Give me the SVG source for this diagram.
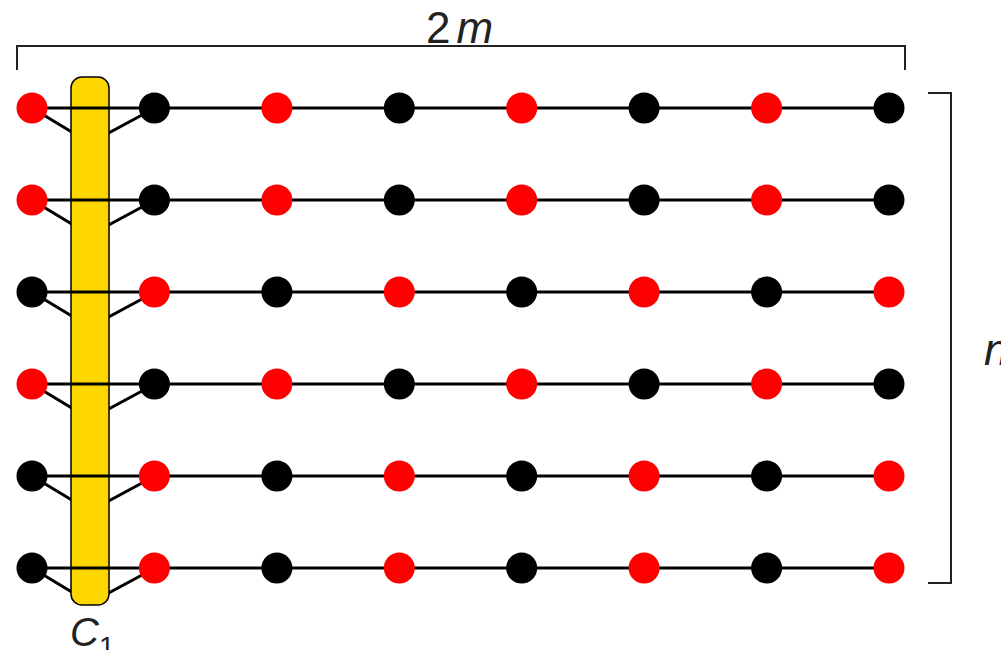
<svg xmlns="http://www.w3.org/2000/svg" width="1001" height="650" viewBox="0 0 1001 650">
<style>
.e{stroke:#000;stroke-width:3;fill:none}
.br{stroke:#222;stroke-width:2;fill:none}
.r{fill:#ff0000}
.b{fill:#000}
.lbl{font-family:"Liberation Sans",Arial,sans-serif;fill:#222}
</style>
<rect width="1001" height="650" fill="#fff"/>
<g id="connectors">
<path class="e" d="M32,108 L90,143 L155,108 M32,200 L90,235 L155,200 M32,292 L90,327 L155,292 M32,384 L90,419 L155,384 M32,476 L90,511 L155,476 M32,568 L90,603 L155,568"/>
</g>
<g id="C1">
<rect x="71" y="77" width="38" height="528" rx="11" fill="#ffd700" stroke="#000" stroke-width="1.5"/>
<text class="lbl" x="70" y="646" font-size="40" font-style="italic">C<tspan font-size="28" font-style="normal" dy="10">1</tspan></text>
</g>
<g id="rows">
<path class="e" d="M32,108H889M32,200H889M32,292H889M32,384H889M32,476H889M32,568H889"/>
</g>
<g id="nodes">
<g id="row1"><circle class="r" cx="32" cy="108" r="15.5"/><circle class="b" cx="154.4" cy="108" r="15.5"/><circle class="r" cx="276.9" cy="108" r="15.5"/><circle class="b" cx="399.3" cy="108" r="15.5"/><circle class="r" cx="521.7" cy="108" r="15.5"/><circle class="b" cx="644.1" cy="108" r="15.5"/><circle class="r" cx="766.6" cy="108" r="15.5"/><circle class="b" cx="889" cy="108" r="15.5"/></g>
<g id="row2"><circle class="r" cx="32" cy="200" r="15.5"/><circle class="b" cx="154.4" cy="200" r="15.5"/><circle class="r" cx="276.9" cy="200" r="15.5"/><circle class="b" cx="399.3" cy="200" r="15.5"/><circle class="r" cx="521.7" cy="200" r="15.5"/><circle class="b" cx="644.1" cy="200" r="15.5"/><circle class="r" cx="766.6" cy="200" r="15.5"/><circle class="b" cx="889" cy="200" r="15.5"/></g>
<g id="row3"><circle class="b" cx="32" cy="292" r="15.5"/><circle class="r" cx="154.4" cy="292" r="15.5"/><circle class="b" cx="276.9" cy="292" r="15.5"/><circle class="r" cx="399.3" cy="292" r="15.5"/><circle class="b" cx="521.7" cy="292" r="15.5"/><circle class="r" cx="644.1" cy="292" r="15.5"/><circle class="b" cx="766.6" cy="292" r="15.5"/><circle class="r" cx="889" cy="292" r="15.5"/></g>
<g id="row4"><circle class="r" cx="32" cy="384" r="15.5"/><circle class="b" cx="154.4" cy="384" r="15.5"/><circle class="r" cx="276.9" cy="384" r="15.5"/><circle class="b" cx="399.3" cy="384" r="15.5"/><circle class="r" cx="521.7" cy="384" r="15.5"/><circle class="b" cx="644.1" cy="384" r="15.5"/><circle class="r" cx="766.6" cy="384" r="15.5"/><circle class="b" cx="889" cy="384" r="15.5"/></g>
<g id="row5"><circle class="b" cx="32" cy="476" r="15.5"/><circle class="r" cx="154.4" cy="476" r="15.5"/><circle class="b" cx="276.9" cy="476" r="15.5"/><circle class="r" cx="399.3" cy="476" r="15.5"/><circle class="b" cx="521.7" cy="476" r="15.5"/><circle class="r" cx="644.1" cy="476" r="15.5"/><circle class="b" cx="766.6" cy="476" r="15.5"/><circle class="r" cx="889" cy="476" r="15.5"/></g>
<g id="row6"><circle class="b" cx="32" cy="568" r="15.5"/><circle class="r" cx="154.4" cy="568" r="15.5"/><circle class="b" cx="276.9" cy="568" r="15.5"/><circle class="r" cx="399.3" cy="568" r="15.5"/><circle class="b" cx="521.7" cy="568" r="15.5"/><circle class="r" cx="644.1" cy="568" r="15.5"/><circle class="b" cx="766.6" cy="568" r="15.5"/><circle class="r" cx="889" cy="568" r="15.5"/></g>
</g>
<g id="width-brace">
<path class="br" d="M17,70V46H905V70"/>
<text class="lbl" x="426" y="43" font-size="44">2<tspan dx="6" font-style="italic">m</tspan></text>
</g>
<g id="height-brace">
<path class="br" d="M928,93H951V583H928"/>
<text class="lbl" x="984" y="365" font-size="44" font-style="italic">n</text>
</g>
</svg>
